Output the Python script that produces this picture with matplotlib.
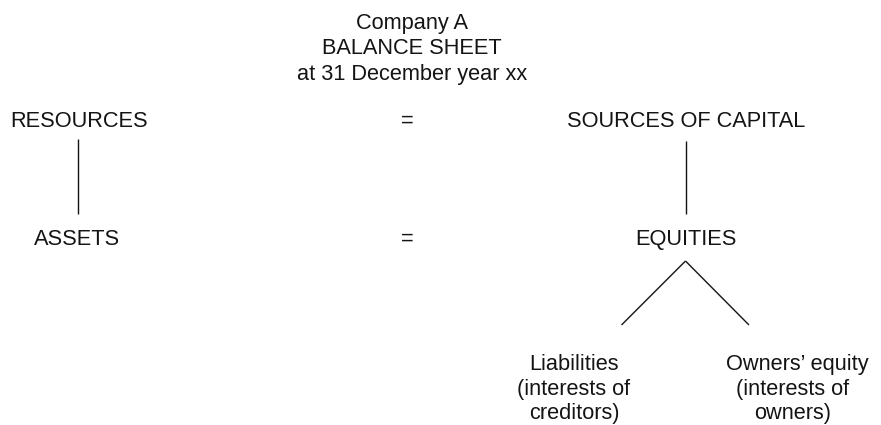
import matplotlib
matplotlib.use("Agg")
import matplotlib.pyplot as plt

W, H = 881, 425
title_lines = ["Company A", "BALANCE SHEET", "at 31 December year xx"]
row1 = ["RESOURCES", "=", "SOURCES OF CAPITAL"]
row2 = ["ASSETS", "=", "EQUITIES"]
leaf_left = ["Liabilities", "(interests of", "creditors)"]
leaf_right = ["Owners\u2019 equity", "(interests of", "owners)"]

fig = plt.figure(figsize=(W / 100, H / 100), dpi=100)
ax = fig.add_axes([0, 0, 1, 1])
ax.set_xlim(0, W)
ax.set_ylim(H, 0)
ax.axis("off")

ink = "#141414"
font = dict(family="Liberation Sans", fontsize=15.7, color=ink, va="baseline")

# title block
for i, t in enumerate(title_lines):
    ax.text(412, 28.5 + i * 25.8, t, ha="center", **font)

# first row
ax.text(10, 127, row1[0], ha="left", **font)
ax.text(407, 127, row1[1], ha="center", **font)
ax.text(686, 127, row1[2], ha="center", **font)

# second row
ax.text(77, 244.5, row2[0], ha="center", **font)
ax.text(407, 244.5, row2[1], ha="center", **font)
ax.text(686, 244.5, row2[2], ha="center", **font)

# connecting lines
lc = dict(color=ink, lw=1.0, solid_capstyle="butt")
ax.plot([77.7, 77.7], [139, 214], **lc)
ax.plot([686, 686], [141, 214], **lc)
ax.plot([685.5, 621.5], [261, 325], **lc)
ax.plot([685.5, 749], [261, 325], **lc)

# leaves
for i, t in enumerate(leaf_left):
    ax.text(574, 370 + i * 24.7, t, ha="center", **font)
right_x = [797, 793, 793]
for i, t in enumerate(leaf_right):
    ax.text(right_x[i], 370 + i * 24.7, t, ha="center", **font)

fig.savefig("out.png", dpi=100)
